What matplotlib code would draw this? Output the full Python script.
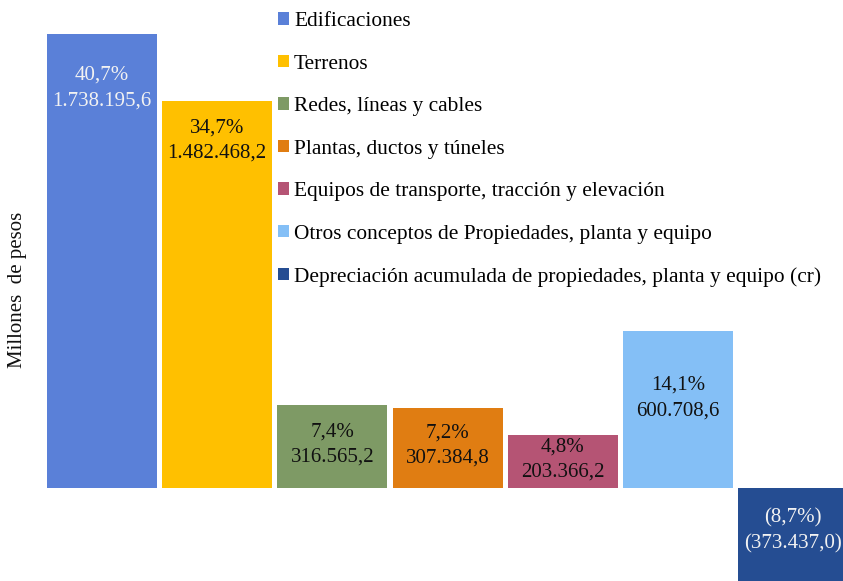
"""Propiedades, planta y equipo: bar chart with inside labels."""

import matplotlib
matplotlib.use("Agg")
import matplotlib.pyplot as plt
from matplotlib.patches import Patch

plt.rcParams["font.family"] = ["Liberation Serif", "DejaVu Serif"]

categories = [
    "Edificaciones",
    "Terrenos",
    "Redes, líneas y cables",
    "Plantas, ductos y túneles",
    "Equipos de transporte, tracción y elevación",
    "Otros conceptos de Propiedades, planta y equipo",
    "Depreciación acumulada de propiedades, planta y equipo (cr)",
]
values = [1738195.6, 1482468.2, 316565.2, 307384.8, 203366.2, 600708.6, -373437.0]
pct_labels = ["40,7%", "34,7%", "7,4%", "7,2%", "4,8%", "14,1%", "(8,7%)"]
value_labels = ["1.738.195,6", "1.482.468,2", "316.565,2", "307.384,8",
                "203.366,2", "600.708,6", "(373.437,0)"]

colors = ["#5A80D8", "#FFC000", "#7E9A65", "#E07D12", "#B55474", "#84BFF6", "#254D92"]
text_colors = ["#F2F2F2", "#111111", "#111111", "#111111", "#111111", "#111111", "#F2F2F2"]
# label centre offset below bar end, in pixels
label_offsets = [54, 40, 39, 38, 25, 67, 43]

W, H = 843, 581
fig = plt.figure(figsize=(W / 100, H / 100), dpi=100)
ax = fig.add_axes([0, 0, 1, 1])
ax.axis("off")

# pixel layout: first bar centre at x=102, pitch 115; zero at y=488, 454 px per max value
pitch = 115.2
x0 = 102
ax.set_xlim(-x0 / pitch, (W - x0) / pitch)
per_px = values[0] / 454
ax.set_ylim(-(H - 488) * per_px, 488 * per_px)

xs = list(range(len(values)))
ax.bar(xs, values, width=110 / pitch, color=colors, clip_on=True)

for x, v, p, s, tc, off in zip(xs, values, pct_labels, value_labels, text_colors, label_offsets):
    top = max(v, 0)
    ax.annotate(f"{p}\n{s}", xy=(x, top), xytext=(0, -off), textcoords="offset pixels",
                ha="center", va="center", fontsize=15, color=tc, linespacing=1.45)

handles = [Patch(facecolor=c, edgecolor="none") for c in colors]
fig.legend(handles, categories, loc="upper left", bbox_to_anchor=(278 / W, 1 - 12 / H),
           frameon=False, fontsize=15.4, handlelength=0.5, handleheight=0.5,
           handletextpad=0.25, labelspacing=1.1, borderaxespad=0, borderpad=0)

fig.text(18 / W, 1 - 290 / H, "Millones  de pesos", rotation=90, ha="center", va="center",
         fontsize=15, color="#111111")

fig.savefig("out.png", dpi=100, facecolor="white")
